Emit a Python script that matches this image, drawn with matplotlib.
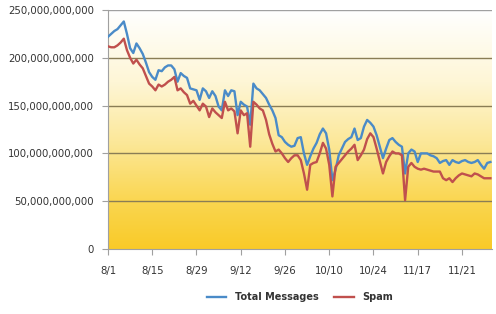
import matplotlib
matplotlib.use("Agg")
import matplotlib.pyplot as plt
import numpy as np
from matplotlib.colors import LinearSegmentedColormap
from matplotlib.ticker import FuncFormatter

tick_labels = ["8/1", "8/15", "8/29", "9/12", "9/26", "10/10", "10/24", "11/17", "11/21"]

total_messages = [
    222, 225, 228, 230, 234, 238, 225, 210, 205, 215,
    210, 204, 195, 185, 180, 177, 187, 186, 190, 192,
    192, 188, 175, 184, 181, 179, 168, 167, 166, 156,
    168, 165, 158, 165, 160, 149, 145, 166, 160, 166,
    165, 140, 154, 151, 149, 130, 173, 168, 166, 162,
    158, 151, 145, 137, 119, 117, 112, 109, 107, 108,
    116, 117, 100, 88, 97, 105, 111, 120, 126, 121,
    104, 72, 83, 98, 105, 112, 115, 117, 126, 114,
    116, 128, 135, 132, 128, 119, 107, 95, 105, 114,
    116, 112, 109, 107, 79, 100, 104, 102, 91, 100,
    100, 100, 98, 97, 95, 90, 92, 93, 88, 93,
    91, 90, 92, 93, 91, 90, 91, 93, 88, 84,
    90, 91,
]

spam = [
    212, 211, 211, 213, 216, 220, 208, 200, 194, 198,
    193, 189, 181, 173, 170, 166, 172, 170, 172, 175,
    177, 180, 166, 168, 164, 161, 152, 155, 150, 145,
    152, 149, 138, 147, 143, 140, 137, 154, 145, 147,
    144, 121, 145, 140, 142, 107, 154, 151, 147, 145,
    135, 120, 110, 102, 104, 100, 95, 91, 95, 98,
    98, 93, 79, 62, 88, 90, 91, 100, 111, 105,
    88, 55, 86, 90, 94, 98, 102, 105, 109, 93,
    98, 104, 115, 121, 117, 105, 92, 79, 91, 97,
    102, 100, 100, 98, 51, 86, 90, 86, 84, 83,
    84, 83, 82, 81, 81, 81, 74, 72, 74, 70,
    74, 77, 79, 78, 77, 76, 79, 78, 76, 74,
    74, 74,
]

scale = 1e9
n = len(total_messages)
x = np.arange(n)

fig = plt.figure(figsize=(4.96, 3.14), dpi=100)
ax = fig.add_axes([108 / 496, 1 - 249 / 314, (492 - 108) / 496, (249 - 10) / 314])

cmap = LinearSegmentedColormap.from_list(
    "bg", [(0.0, "#F9CA28"), (0.2, "#FAD650"), (0.45, "#FCE89A"),
           (0.7, "#FEF6D6"), (1.0, "#FFFFFF")]
)
grad = np.linspace(0, 1, 256).reshape(-1, 1)
ax.imshow(grad, cmap=cmap, aspect="auto", origin="lower",
          extent=[-0.5, n - 0.5, 0, 250 * scale], zorder=0)

ax.plot(x, np.array(total_messages) * scale, color="#4A8BC8", lw=1.7,
        label="Total Messages", zorder=3)
ax.plot(x, np.array(spam) * scale, color="#C0504D", lw=1.7, label="Spam", zorder=4)

ax.set_xlim(0, n - 0.5)
ax.set_ylim(0, 250 * scale)
ax.set_yticks(np.arange(0, 251, 50) * scale)
ax.yaxis.set_major_formatter(FuncFormatter(lambda v, p: f"{int(round(v)):,}"))
ax.set_xticks(np.arange(len(tick_labels)) * 14)
ax.set_xticklabels(tick_labels)

for yv in np.arange(50, 251, 50):
    ax.axhline(yv * scale, color="#8A7D55" if yv < 250 else "#A0A0A0", lw=1.0, zorder=1)

for s in ["top", "right"]:
    ax.spines[s].set_visible(False)
ax.spines["left"].set_color("#A0A0A0")
ax.spines["bottom"].set_color("#A0A0A0")
ax.tick_params(axis="y", length=4, color="#A0A0A0", labelsize=7.3, labelcolor="#333333", pad=6)
ax.tick_params(axis="x", length=4, color="#A0A0A0", labelsize=7.3, labelcolor="#333333", pad=8)

leg = fig.legend(loc="center", bbox_to_anchor=(300 / 496, 1 - 297 / 314), ncol=2,
                 frameon=False, prop={"size": 7.0, "weight": "bold"},
                 handlelength=2.0, columnspacing=1.6, handletextpad=0.9)
for t in leg.get_texts():
    t.set_color("#333333")

fig.savefig("out.png", dpi=100)
